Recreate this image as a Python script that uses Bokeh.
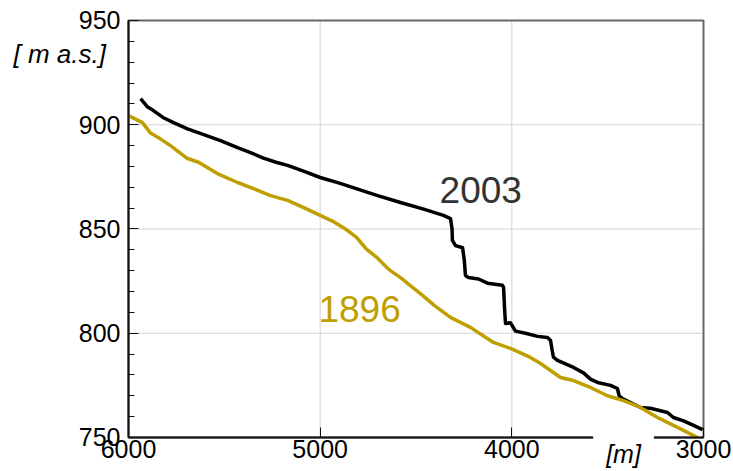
from bokeh.plotting import figure
from bokeh.models import Range1d, Label, FixedTicker, LinearAxis
from bokeh.embed import file_html
from bokeh.resources import INLINE

dist_2003 = [5937, 5900, 5870, 5820, 5765, 5692, 5600, 5520, 5431, 5360, 5296, 5230, 5170, 5080, 5000,
             4900, 4800, 4700, 4581, 4460, 4357, 4320, 4312, 4310, 4294, 4257, 4248, 4242, 4226, 4174,
             4127, 4049, 4043, 4038, 4033, 4007, 3981, 3929, 3866, 3814, 3798, 3790, 3783, 3762, 3678,
             3626, 3590, 3553, 3485, 3449, 3440, 3423, 3381, 3329, 3277, 3188, 3157, 3104, 3052, 3005]
elev_2003 = [912.5, 908.5, 906.8, 903.5, 901, 898, 895, 892.4, 889, 886.5, 884, 882, 880.5, 877.5, 874.7,
             872, 869, 866, 862.7, 859.5, 856.5, 855, 850, 844.5, 842, 841, 835, 827.7, 826.7, 826,
             824, 823, 822, 812, 804.7, 805, 801, 800, 798.5, 798, 796.5, 792, 788.5, 787, 783.6,
             781, 778, 776.4, 775, 773.5, 770, 768.7, 766.8, 764.4, 764, 762, 759.6, 758, 755.8, 753.8]

dist_1896 = [6000, 5927, 5885, 5830, 5781, 5692, 5635, 5580, 5536, 5431, 5348, 5259, 5170, 5080, 5000,
             4930, 4868, 4810, 4760, 4700, 4640, 4581, 4477, 4400, 4320, 4216, 4096, 4007, 3903, 3850,
             3746, 3678, 3590, 3501, 3417, 3329, 3240, 3157, 3031]
elev_1896 = [904.4, 901, 896, 893, 890, 883.8, 882, 879, 876.6, 872.3, 869.4, 866, 863.7, 860, 856.5,
             853.5, 850, 846, 840.5, 836, 830.5, 826.7, 819, 813, 807.6, 802.8, 795.6, 792.7, 788.4, 785.5,
             778.8, 777.3, 774, 770, 767.7, 764.4, 759.6, 755.8, 750]

x_ticks = [6000, 5000, 4000, 3000]
y_ticks = [750, 800, 850, 900, 950]
y_minor = list(range(750, 951, 10))
X_MAX, X_MIN = 6000, 3000
Y_MIN, Y_MAX = 750, 950

GOLD = "#bf9f00"
FONT = "Liberation Sans"

# frame spans the whole canvas so that the outside texts are not clipped;
# the plotting box (6000..3000, 750..950) sits inside it
p = figure(width=733, height=471, output_backend="svg", toolbar_location=None,
           x_range=Range1d(6667.8, 2843.5), y_range=Range1d(733.69, 959.59),
           x_axis_location=None, y_axis_location=None, min_border=0)
p.outline_line_color = None
p.background_fill_color = "white"
p.border_fill_color = "white"
p.grid.grid_line_color = None

# grid lines
gx = [t for t in x_ticks if X_MIN < t < X_MAX]
gy = [t for t in y_ticks if Y_MIN < t < Y_MAX]
p.segment(x0=gx, y0=[Y_MIN] * len(gx), x1=gx, y1=[Y_MAX] * len(gx),
          line_color="#d4d4d4", line_width=1)
p.segment(x0=[X_MAX] * len(gy), y0=gy, x1=[X_MIN] * len(gy), y1=gy,
          line_color="#d4d4d4", line_width=1)
# box outline (top / right)
p.quad(left=[X_MAX], right=[X_MIN], bottom=[Y_MIN], top=[Y_MAX],
       fill_color=None, line_color="#666666", line_width=2)

p.line(dist_2003, elev_2003, line_color="black", line_width=3.5, line_join="round")
p.line(dist_1896, elev_1896, line_color=GOLD, line_width=3.5, line_join="round")

xaxis = LinearAxis(ticker=FixedTicker(ticks=x_ticks), fixed_location=Y_MIN, bounds=(X_MIN, X_MAX))
yaxis = LinearAxis(ticker=FixedTicker(ticks=y_ticks, minor_ticks=y_minor), fixed_location=X_MAX,
                   bounds=(Y_MIN, Y_MAX))
for ax in (xaxis, yaxis):
    ax.major_label_text_font = FONT
    ax.major_label_text_font_size = "25px"
    ax.major_label_text_color = "black"
    ax.axis_line_color = "#111111"
    ax.axis_line_width = 2
    ax.major_tick_line_color = "#111111"
    ax.major_tick_in = 10
    ax.major_tick_out = 0
    ax.minor_tick_in = 6
    ax.minor_tick_out = 0
xaxis.minor_tick_line_color = None
xaxis.major_label_standoff = 3
yaxis.major_label_standoff = 8
yaxis.minor_tick_line_color = "#111111"
p.add_layout(xaxis, "below")
p.add_layout(yaxis, "left")

p.add_layout(Label(x=4377, y=868.9, text="2003", text_font=FONT, text_font_size="37px",
                   text_color="#333333", text_align="left", text_baseline="middle"))
p.add_layout(Label(x=5009, y=811.4, text="1896", text_font=FONT, text_font_size="37px",
                   text_color=GOLD, text_align="left", text_baseline="middle"))
p.add_layout(Label(x=6600, y=933.7, text="[ m a.s.]", text_font=FONT, text_font_size="26px",
                   text_font_style="italic", text_color="black", text_align="left",
                   text_baseline="middle"))
p.add_layout(Label(x=3417.4, y=741.85, text="[m]", text_font=FONT, text_font_size="25px",
                   text_font_style="italic", text_color="black", text_align="center",
                   text_baseline="middle", background_fill_color="white",
                   padding=dict(left=13, right=13, top=5, bottom=5)))

open("out.html", "w").write(file_html(p, INLINE))
